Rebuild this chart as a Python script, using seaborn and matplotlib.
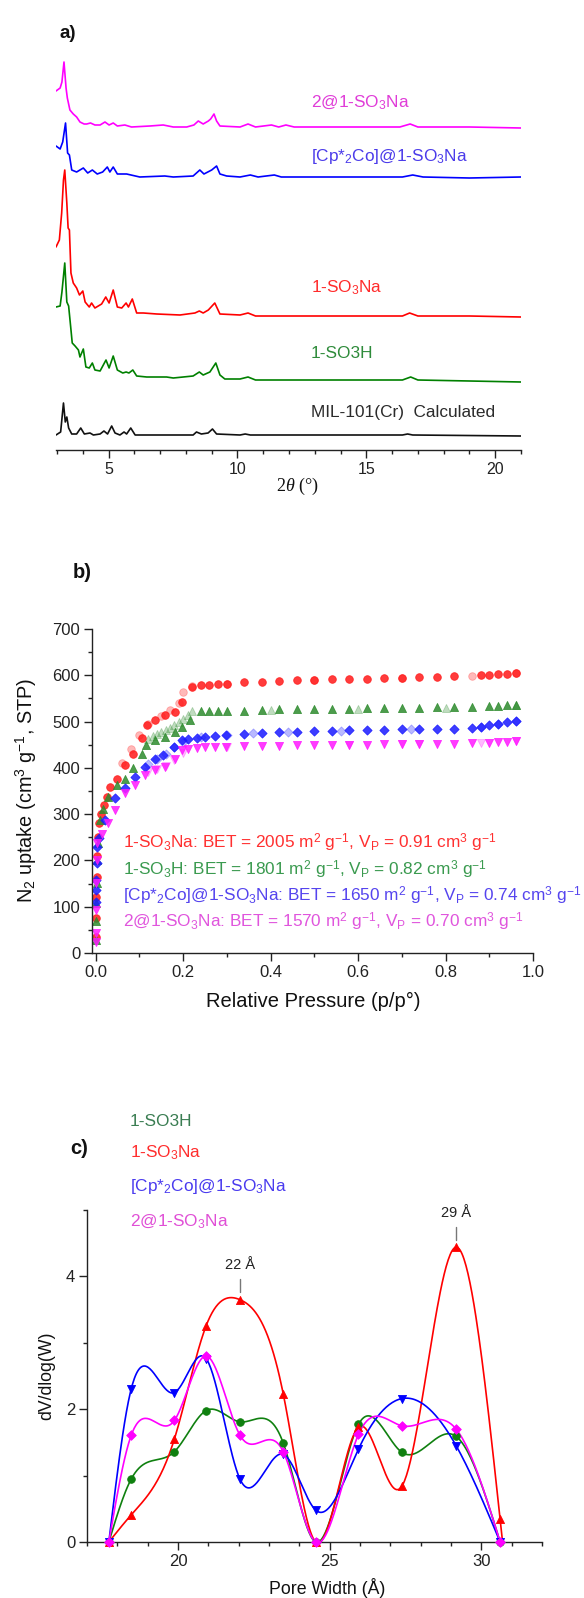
import numpy as np
import pandas as pd
import matplotlib
matplotlib.use("Agg")
import matplotlib.pyplot as plt
from matplotlib.ticker import MultipleLocator
import seaborn as sns

# ---------------- a) PXRD (stacked, a.u.) ----------------
tt_2at = [2.96,3.12,3.19,3.27,3.35,3.40,3.50,3.63,3.76,3.89,4.05,4.15,4.30,4.47,4.67,4.86,5.02,5.18,5.34,5.63,5.89,6.60,7.12,7.51,8.03,8.31,8.48,8.67,8.87,8.96,9.09,9.19,9.32,10.10,10.41,10.70,11.32,11.60,11.88,12.20,14.0,16.30,16.70,17.00,19.0,21.0]
int_2at = [359,362,368,388,362,352,340,336,333,328,326,326,327,325,325,328,325,327,324,325,323,324,325,323,323,325,329,326,329,331,336,329,324,323,326,323,325,323,325,323,323,323,326,323,323,322]

tt_cp = [2.96,3.12,3.22,3.33,3.41,3.48,3.57,3.76,4.02,4.19,4.37,4.56,4.77,4.95,5.05,5.18,5.34,5.70,6.21,7.18,7.51,8.28,8.54,8.70,9.00,9.19,9.32,9.58,10.10,10.50,10.80,11.43,11.70,14.0,16.40,16.80,17.20,19.0,21.0]
int_cp = [304,301,308,327,297,295,280,278,282,277,280,276,278,283,278,283,276,276,273,274,273,274,280,276,280,284,276,274,273,275,273,275,273,273,273,275,273,272,273]

tt_na = [2.96,3.09,3.18,3.25,3.30,3.38,3.43,3.48,3.54,3.63,3.76,3.87,4.00,4.09,4.25,4.34,4.47,4.73,4.89,5.02,5.18,5.34,5.51,5.68,5.77,5.92,6.09,6.35,6.87,7.77,8.35,8.52,8.67,8.87,9.12,9.32,10.10,10.41,10.70,14.0,16.40,16.68,17.00,19.0,21.0]
int_na = [203,210,237,270,280,247,222,220,177,167,162,155,159,148,143,147,142,146,153,147,160,143,142,147,143,151,137,137,136,135,137,139,137,140,147,136,135,137,134,134,134,137,134,134,133]

tt_h = [2.96,3.12,3.19,3.30,3.38,3.45,3.53,3.59,3.70,3.83,3.89,4.02,4.12,4.25,4.37,4.47,4.67,4.90,5.02,5.18,5.34,5.55,5.68,5.79,5.94,6.09,6.48,7.25,7.51,8.28,8.52,8.67,8.93,9.16,9.32,9.51,10.10,10.41,10.70,14.0,16.40,16.72,17.00,19.0,21.0]
int_h = [143,144,158,187,148,144,123,107,104,100,93,101,83,82,87,80,79,90,82,94,80,77,78,77,80,74,73,73,72,74,78,75,78,87,75,71,71,73,70,70,70,73,70,69,68]

tt_mil = [2.96,3.14,3.25,3.32,3.38,3.45,3.57,3.76,3.92,4.06,4.28,4.41,4.67,4.82,4.96,5.12,5.25,5.44,5.60,5.70,5.86,6.03,8.28,8.41,8.60,8.86,9.03,9.19,10.10,10.30,10.50,16.40,16.60,16.80,21.0]
int_mil = [15,18,47,28,33,22,16,16,22,16,17,15,16,19,16,24,17,15,18,16,22,15,15,18,16,17,21,16,15,16,15,15,16,15,14]

xrd_labels = ["2@1-SO$_3$Na", "[Cp*$_2$Co]@1-SO$_3$Na", "1-SO$_3$Na", "1-SO3H", "MIL-101(Cr)  Calculated"]

# ---------------- b) N2 isotherms ----------------
p_na_ads = [0.0002,0.0005,0.001,0.002,0.003,0.0045,0.008,0.012,0.02,0.025,0.033,0.048,0.067,0.086,0.105,0.117,0.136,0.158,0.181,0.197,0.22,0.24,0.26,0.28,0.30,0.34,0.38,0.42,0.46,0.50,0.54,0.58,0.62,0.66,0.70,0.74,0.78,0.82,0.88,0.90,0.92,0.94,0.96]
v_na_ads = [35,75,120,165,210,250,280,300,320,338,359,377,406,431,465,492,503,514,521,543,574,579,579,581,582,585,586,588,589,590,591,592,593,594,595,596,597,598,600,601,602,603,604]
p_na_des = [0.96,0.86,0.70,0.50,0.30,0.22,0.20,0.19,0.17,0.15,0.12,0.10,0.08,0.06]
v_na_des = [604,598,595,590,582,576,563,540,525,512,495,470,440,410]

p_h_ads = [0.0002,0.0005,0.001,0.002,0.004,0.006,0.009,0.017,0.029,0.048,0.067,0.086,0.105,0.115,0.136,0.158,0.181,0.197,0.215,0.24,0.26,0.28,0.30,0.34,0.38,0.42,0.46,0.50,0.54,0.58,0.62,0.66,0.70,0.74,0.78,0.82,0.86,0.90,0.92,0.94,0.96]
v_h_ads = [28,70,108,151,201,238,287,312,338,363,377,399,430,449,460,467,478,489,503,522,523,523,523,523,526,527,527,528,528,528,529,529,530,530,531,531,532,533,534,535,536]
p_h_des = [0.96,0.80,0.60,0.40,0.22,0.21,0.20,0.19,0.18,0.17,0.16,0.15,0.14,0.13,0.12]
v_h_des = [536,530,528,525,522,515,505,498,492,487,482,478,473,468,462]

p_cp_ads = [0.0002,0.0005,0.001,0.002,0.004,0.008,0.021,0.044,0.067,0.09,0.113,0.136,0.155,0.178,0.197,0.212,0.231,0.251,0.273,0.299,0.34,0.38,0.42,0.46,0.50,0.54,0.58,0.62,0.66,0.70,0.74,0.78,0.82,0.86,0.88,0.90,0.92,0.94,0.96]
v_cp_ads = [110,136,158,194,230,248,287,334,356,381,401,420,428,446,460,462,464,466,469,470,473,475,477,478,479,480,481,482,482,483,483,484,485,487,489,492,495,498,502]
p_cp_des = [0.96,0.92,0.88,0.72,0.56,0.44,0.36,0.30,0.24,0.20,0.18,0.16,0.14,0.12]
v_cp_des = [502,494,489,483,480,477,475,472,466,456,445,430,420,408]

p_2_ads = [0.0002,0.0004,0.0008,0.0015,0.0025,0.004,0.014,0.029,0.044,0.067,0.09,0.113,0.136,0.158,0.181,0.197,0.212,0.231,0.251,0.273,0.299,0.34,0.38,0.42,0.46,0.50,0.54,0.58,0.62,0.66,0.70,0.74,0.78,0.82,0.86,0.90,0.92,0.94,0.96]
v_2_ads = [24,43,93,151,201,237,258,280,309,345,363,384,395,402,420,438,441,443,444,445,446,447,448,448,449,449,450,450,450,451,451,451,452,452,453,454,455,456,457]
p_2_des = [0.96,0.88,0.74,0.70,0.58,0.30,0.20,0.18,0.16,0.14,0.12]
v_2_des = [457,453,451,451,450,445,432,418,405,398,390]

bet_labels = [
    "1-SO$_3$Na: BET = 2005 m$^2$ g$^{-1}$, V$_\\mathrm{P}$ = 0.91 cm$^3$ g$^{-1}$",
    "1-SO$_3$H: BET = 1801 m$^2$ g$^{-1}$, V$_\\mathrm{P}$ = 0.82 cm$^3$ g$^{-1}$",
    "[Cp*$_2$Co]@1-SO$_3$Na: BET = 1650 m$^2$ g$^{-1}$, V$_\\mathrm{P}$ = 0.74 cm$^3$ g$^{-1}$",
    "2@1-SO$_3$Na: BET = 1570 m$^2$ g$^{-1}$, V$_\\mathrm{P}$ = 0.70 cm$^3$ g$^{-1}$",
]

# ---------------- c) pore size distribution ----------------
pw = [17.72,18.46,19.88,20.93,22.04,23.47,24.54,25.95,27.38,29.17,30.62]
psd_h = [0,0.95,1.36,1.98,1.81,1.49,0,1.77,1.35,1.59,0]
psd_na = [0,0.41,1.55,3.26,3.65,2.23,0,1.73,0.84,4.44,0.34]
psd_cp = [0,2.31,2.25,2.76,0.95,1.32,0.48,1.40,2.16,1.45,0]
psd_2 = [0,1.61,1.83,2.80,1.61,1.36,0,1.62,1.75,1.70,0]
psd_labels = ["1-SO3H", "1-SO$_3$Na", "[Cp*$_2$Co]@1-SO$_3$Na", "2@1-SO$_3$Na"]
peak_labels = ["22 Å", "29 Å"]
peak_pos = [22.04, 29.17]
peak_val = [3.65, 4.44]

# ---------------- style ----------------
sns.set_theme(style="ticks")
plt.rcParams["font.family"] = ["Liberation Sans", "DejaVu Sans"]
plt.rcParams["mathtext.fontset"] = "custom"
plt.rcParams["mathtext.rm"] = "Liberation Sans"
plt.rcParams["mathtext.it"] = "Liberation Serif:italic"
plt.rcParams["mathtext.bf"] = "Liberation Sans:bold"
plt.rcParams["axes.linewidth"] = 1.0
plt.rcParams["axes.edgecolor"] = "#222222"

W, H = 584, 1598
fig = plt.figure(figsize=(W / 100, H / 100), dpi=100)
fig.patch.set_facecolor("white")


def add_ax(l, r, t, b):
    ax = fig.add_axes([l / W, 1 - b / H, (r - l) / W, (b - t) / H])
    ax.set_facecolor("none")
    return ax


def ftext(x, y, s, **kw):
    fig.text(x / W, 1 - y / H, s, **kw)


def spline(x, y, xs):
    """Natural cubic spline through the data points (line style only)."""
    x = np.asarray(x, float)
    y = np.asarray(y, float)
    n = len(x)
    h = np.diff(x)
    A = np.zeros((n, n))
    r = np.zeros(n)
    A[0, 0] = A[-1, -1] = 1
    for i in range(1, n - 1):
        A[i, i - 1] = h[i - 1]
        A[i, i] = 2 * (h[i - 1] + h[i])
        A[i, i + 1] = h[i]
        r[i] = 3 * ((y[i + 1] - y[i]) / h[i] - (y[i] - y[i - 1]) / h[i - 1])
    c = np.linalg.solve(A, r)
    b = (y[1:] - y[:-1]) / h - h * (2 * c[:-1] + c[1:]) / 3
    d = (c[1:] - c[:-1]) / (3 * h)
    idx = np.clip(np.searchsorted(x, xs) - 1, 0, n - 2)
    dx = xs - x[idx]
    return y[idx] + b[idx] * dx + c[idx] * dx ** 2 + d[idx] * dx ** 3


def style_ticks(ax, size):
    ax.tick_params(which="major", length=5.5, width=1.0, direction="out",
                   color="#222222", labelsize=size, labelcolor="#222222", pad=3)
    ax.tick_params(which="minor", length=3.2, width=1.0, direction="out", color="#222222")


# ---------------- panel a ----------------
axa = add_ax(56, 521, 40, 450)
traces = [(tt_2at, int_2at, "#FF00FF"), (tt_cp, int_cp, "#0000FF"),
          (tt_na, int_na, "#FF0000"), (tt_h, int_h, "#008000"), (tt_mil, int_mil, "#111111")]
for xs, ys, c in traces:
    sns.lineplot(x=xs, y=ys, ax=axa, color=c, lw=1.2, sort=False, estimator=None, legend=False)
axa.set_xlim(2.96, 21.0)
axa.set_ylim(0, 410)
sns.despine(ax=axa, left=True)
axa.set_yticks([])
axa.xaxis.set_major_locator(MultipleLocator(5))
axa.xaxis.set_minor_locator(MultipleLocator(1))
style_ticks(axa, 11.5)
axa.set_xlabel("")
axa.set_ylabel("")

a_colors = ["#E03CD8", "#4B3BEA", "#FF2B2B", "#2E8B3A", "#2B2B2B"]
a_ys = [102, 156, 288, 353, 412]
for lab, c, y in zip(xrd_labels, a_colors, a_ys):
    ftext(311, y, lab, color=c, fontsize=12.4, va="center", ha="left")
ftext(297, 486, "2$\\mathit{\\theta}$ (°)", family="Liberation Serif", fontsize=13,
      ha="center", va="center", color="#111111")
ftext(60, 33, "a)", fontsize=13.5, fontweight="bold", va="center", color="#111111")

# ---------------- panel b ----------------
axb = add_ax(92, 533, 629, 953)
iso = [
    (p_na_ads, v_na_ads, p_na_des, v_na_des, "#FF1A1A", "o", 30),
    (p_h_ads, v_h_ads, p_h_des, v_h_des, "#2E8B2E", "^", 34),
    (p_cp_ads, v_cp_ads, p_cp_des, v_cp_des, "#1A1AFF", "D", 22),
    (p_2_ads, v_2_ads, p_2_des, v_2_des, "#FF1AFF", "v", 34),
]
for pa, va, pd_, vd, c, m, s in iso:
    sns.scatterplot(x=pd_, y=vd, ax=axb, marker=m, s=s, color=c, alpha=0.3,
                    edgecolor=c, linewidth=0.6, legend=False)
for pa, va, pd_, vd, c, m, s in iso:
    sns.scatterplot(x=pa, y=va, ax=axb, marker=m, s=s, color=c, alpha=0.85,
                    edgecolor=c, linewidth=0.6, legend=False)
axb.set_xlim(-0.0085, 1.0)
axb.set_ylim(0, 700)
sns.despine(ax=axb)
axb.xaxis.set_major_locator(MultipleLocator(0.2))
axb.xaxis.set_minor_locator(MultipleLocator(0.1))
axb.yaxis.set_major_locator(MultipleLocator(100))
axb.yaxis.set_minor_locator(MultipleLocator(50))
axb.xaxis.set_major_formatter(matplotlib.ticker.FormatStrFormatter("%.1f"))
style_ticks(axb, 12)
axb.set_xlabel("")
axb.set_ylabel("")
b_colors = ["#FF3030", "#3A9A4F", "#5544EE", "#E055DD"]
b_ys = [843, 870, 896, 922]
for lab, c, y in zip(bet_labels, b_colors, b_ys):
    ftext(123, y, lab, color=c, fontsize=12.4, va="center", ha="left")
ftext(26, 790, "N$_2$ uptake (cm$^3$ g$^{-1}$, STP)", rotation=90, fontsize=14.3,
      ha="center", va="center", color="#111111")
ftext(313, 1001, "Relative Pressure (p/p°)", fontsize=14.5, ha="center", va="center",
      color="#111111")
ftext(73, 573, "b)", fontsize=14.5, fontweight="bold", va="center", color="#111111")

# ---------------- panel c ----------------
axc = add_ax(87, 542, 1210, 1542)
psd = [(psd_h, "#0F800F", "o", 30), (psd_na, "#FF0000", "^", 34),
       (psd_cp, "#0000FF", "v", 34), (psd_2, "#FF00FF", "D", 24)]
for ys, c, m, s in psd:
    xs_end = pw[-1] + (0.15 if ys is psd_na else 0.0)
    xf = np.linspace(pw[0], xs_end, 400)
    yf = spline(pw, ys, xf)
    sns.lineplot(x=xf, y=yf, ax=axc, color=c, lw=1.2, sort=False, estimator=None, legend=False)
for ys, c, m, s in psd:
    sns.scatterplot(x=pw, y=ys, ax=axc, marker=m, s=s, color=c, edgecolor=c,
                    linewidth=0.6, legend=False, zorder=3, clip_on=False)
axc.set_xlim(17, 32)
axc.set_ylim(0, 5)
sns.despine(ax=axc)
axc.xaxis.set_major_locator(MultipleLocator(5))
axc.xaxis.set_minor_locator(MultipleLocator(1))
axc.yaxis.set_major_locator(MultipleLocator(2))
axc.yaxis.set_minor_locator(MultipleLocator(1))
style_ticks(axc, 12)
axc.set_xlabel("")
axc.set_ylabel("")
for lab, xp, yp in zip(peak_labels, peak_pos, peak_val):
    axc.plot([xp, xp], [yp + 0.11, yp + 0.31], color="#777777", lw=1.0, clip_on=False)
    axc.text(xp, yp + 0.52, lab, ha="center", va="center", fontsize=10.5,
             color="#222222", clip_on=False)
c_colors = ["#3A7D52", "#FF2D2D", "#4A3BEF", "#E04FD6"]
c_ys = [1122, 1153, 1187, 1221]
for lab, c, y in zip(psd_labels, c_colors, c_ys):
    ftext(130, y, lab, color=c, fontsize=12.4, va="center", ha="left")
ftext(70, 1148, "c)", fontsize=14.5, fontweight="bold", va="center", color="#111111")
ftext(47, 1376, "dV/dlog(W)", rotation=90, fontsize=12.7, ha="center", va="center",
      color="#111111")
ftext(327, 1588, "Pore Width (Å)", fontsize=12.8, ha="center", va="center", color="#111111")

fig.savefig("out.png", dpi=100, facecolor="white")
